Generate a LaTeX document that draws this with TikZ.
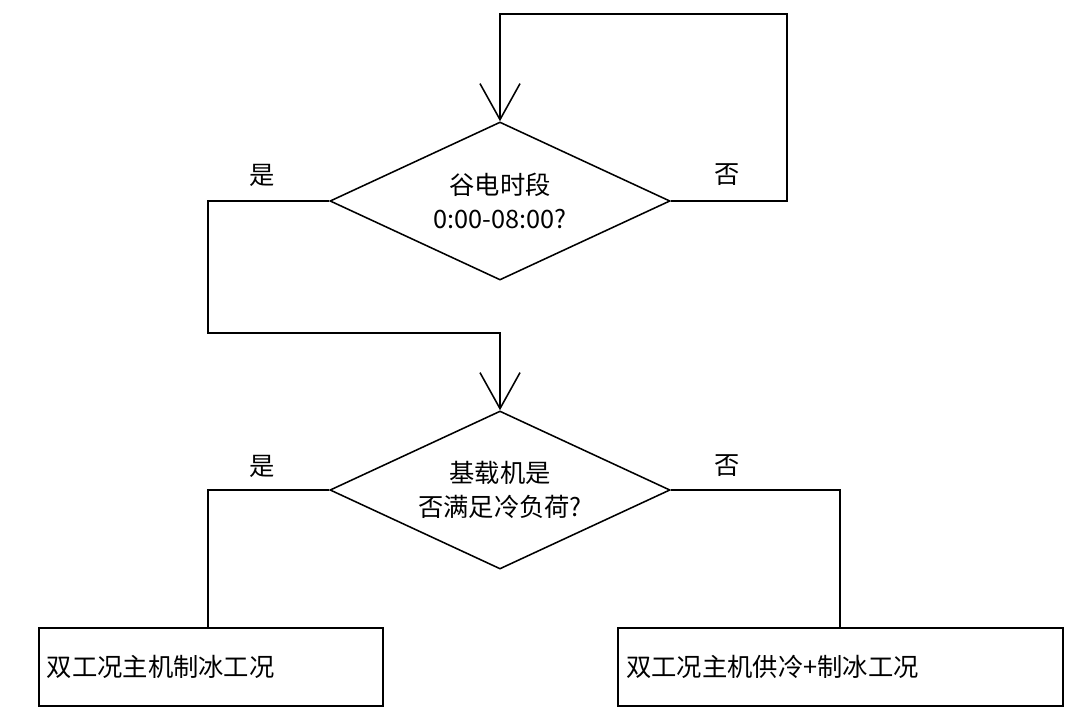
\documentclass[tikz,border=0pt]{standalone}
\usepackage{fontspec}
\setmainfont{Noto Sans CJK SC}
\usetikzlibrary{shapes.geometric,arrows.meta,calc}
\begin{document}
\begin{tikzpicture}[x=0.025cm,y=-0.025cm,line width=1.1pt,
    dec/.style={diamond,draw,aspect=2.15,inner sep=0pt,minimum width=8.5cm,minimum height=3.95cm,align=center,font=\fontsize{18}{24}\selectfont},
    box/.style={rectangle,draw,inner sep=0pt,minimum height=1.95cm,font=\fontsize{18}{22}\selectfont},
    lab/.style={font=\fontsize{18}{22}\selectfont},
    flow/.style={-{Straight Barb[length=0.9cm,width=1cm,line width=1.1pt]}}]
  \useasboundingbox (0,0) rectangle (1080,719);
  % decisions
  \node[dec](d1)at(500,201){谷电时段\\0:00-08:00?};
  \node[dec](d2)at(500,490){基载机是\\否满足冷负荷?};
  % boxes
  \node[box,minimum width=8.6cm,anchor=north west,text width=8.2cm](b1)at(38,627){双工况主机制冰工况};
  \node[box,minimum width=11.125cm,anchor=north west,text width=10.7cm](b2)at(617,627){双工况主机供冷+制冰工况};
  % helper corners
  \coordinate(r1)at(787,14);
  \coordinate(l1)at(208,333);
  % connectors
  \draw[flow](d1.east)-|(r1)-|(d1.north);
  \draw[flow](d1.west)-|(l1)-|(d2.north);
  \draw(d2.west)-|(b1.north -| 208,0);
  \draw(d2.east)-|(b2.north -| 840,0);
  % labels
  \node[lab]at(262,175){是};
  \node[lab]at(727,175){否};
  \node[lab]at(262,466){是};
  \node[lab]at(727,466){否};
\end{tikzpicture}
\end{document}
